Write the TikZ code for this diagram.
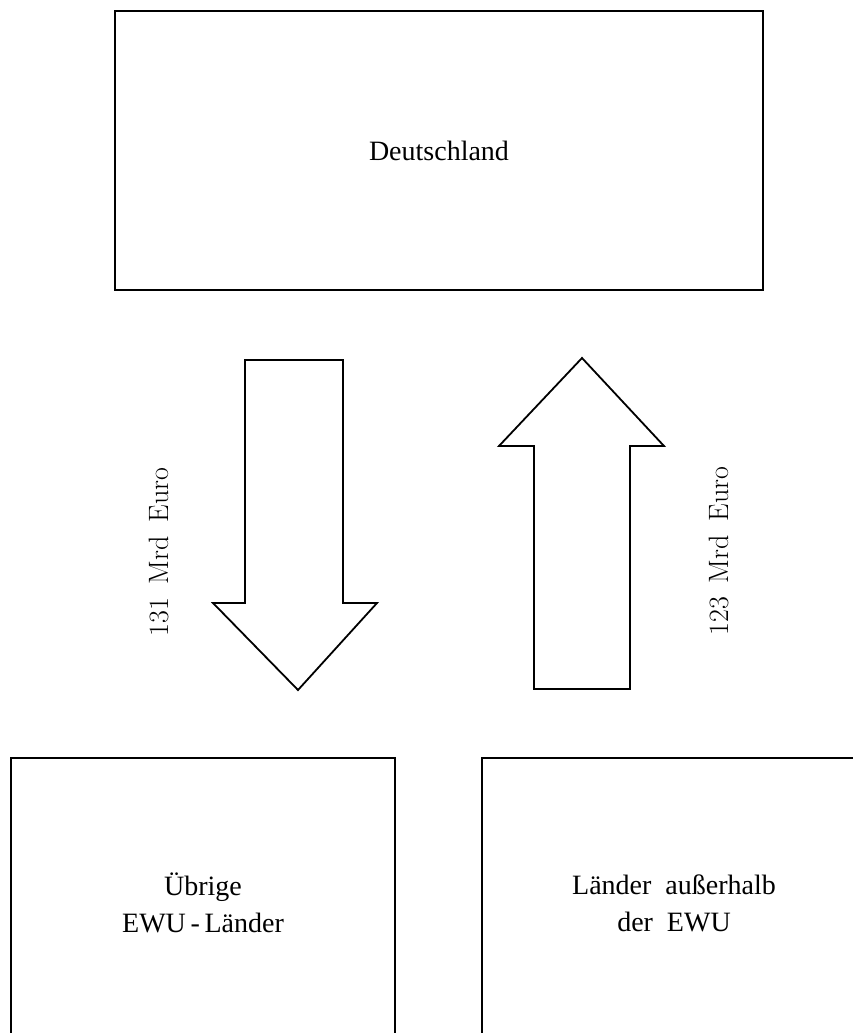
\documentclass[tikz,border=0pt]{standalone}
\usepackage{fontspec}
\newfontfamily\boxfont{Liberation Serif}
\tikzset{
  box/.style={draw, line width=1.6pt, rectangle, inner sep=0pt, align=center, font=\boxfont\fontsize{28}{37}\selectfont},
  bigarrow/.style={draw, line width=1.8pt, line join=miter},
  amount/.style={rotate=90, font=\fontsize{28}{30}\selectfont}
}
\begin{document}
\begin{tikzpicture}[x=1pt,y=-1pt]
\useasboundingbox (0,0) rectangle (853,1033);
\clip (0,0) rectangle (853,1033);
% boxes
\node[box, minimum width=648pt, minimum height=279pt] (de) at (439,150.5) {Deutschland};
\node[box, minimum width=384pt, minimum height=290pt] (ewu) at (203,903) {Übrige\\EWU\,-\,Länder};
\node[box, minimum width=384pt, minimum height=290pt] (rest) at (674,903) {Länder\ \ außerhalb\\der\ \ EWU};
% down arrow (Deutschland -> übrige EWU-Länder)
\coordinate (dtip) at (298,690);
\draw[bigarrow] (245,360) -- (343,360) -- (343,603) -- (377,603) -- (dtip) -- (213,603) -- (245,603) -- cycle;
% up arrow (Länder außerhalb -> Deutschland)
\coordinate (utip) at (582,358);
\draw[bigarrow] (534,689) -- (630,689) -- (630,446) -- (664,446) -- (utip) -- (499,446) -- (534,446) -- cycle;
% amounts
\node[amount] (a1) at (159,552) {131\hspace{0.5em}Mrd\hspace{0.5em}Euro};
\node[amount] (a2) at (719,551) {123\hspace{0.5em}Mrd\hspace{0.5em}Euro};
\end{tikzpicture}
\end{document}
